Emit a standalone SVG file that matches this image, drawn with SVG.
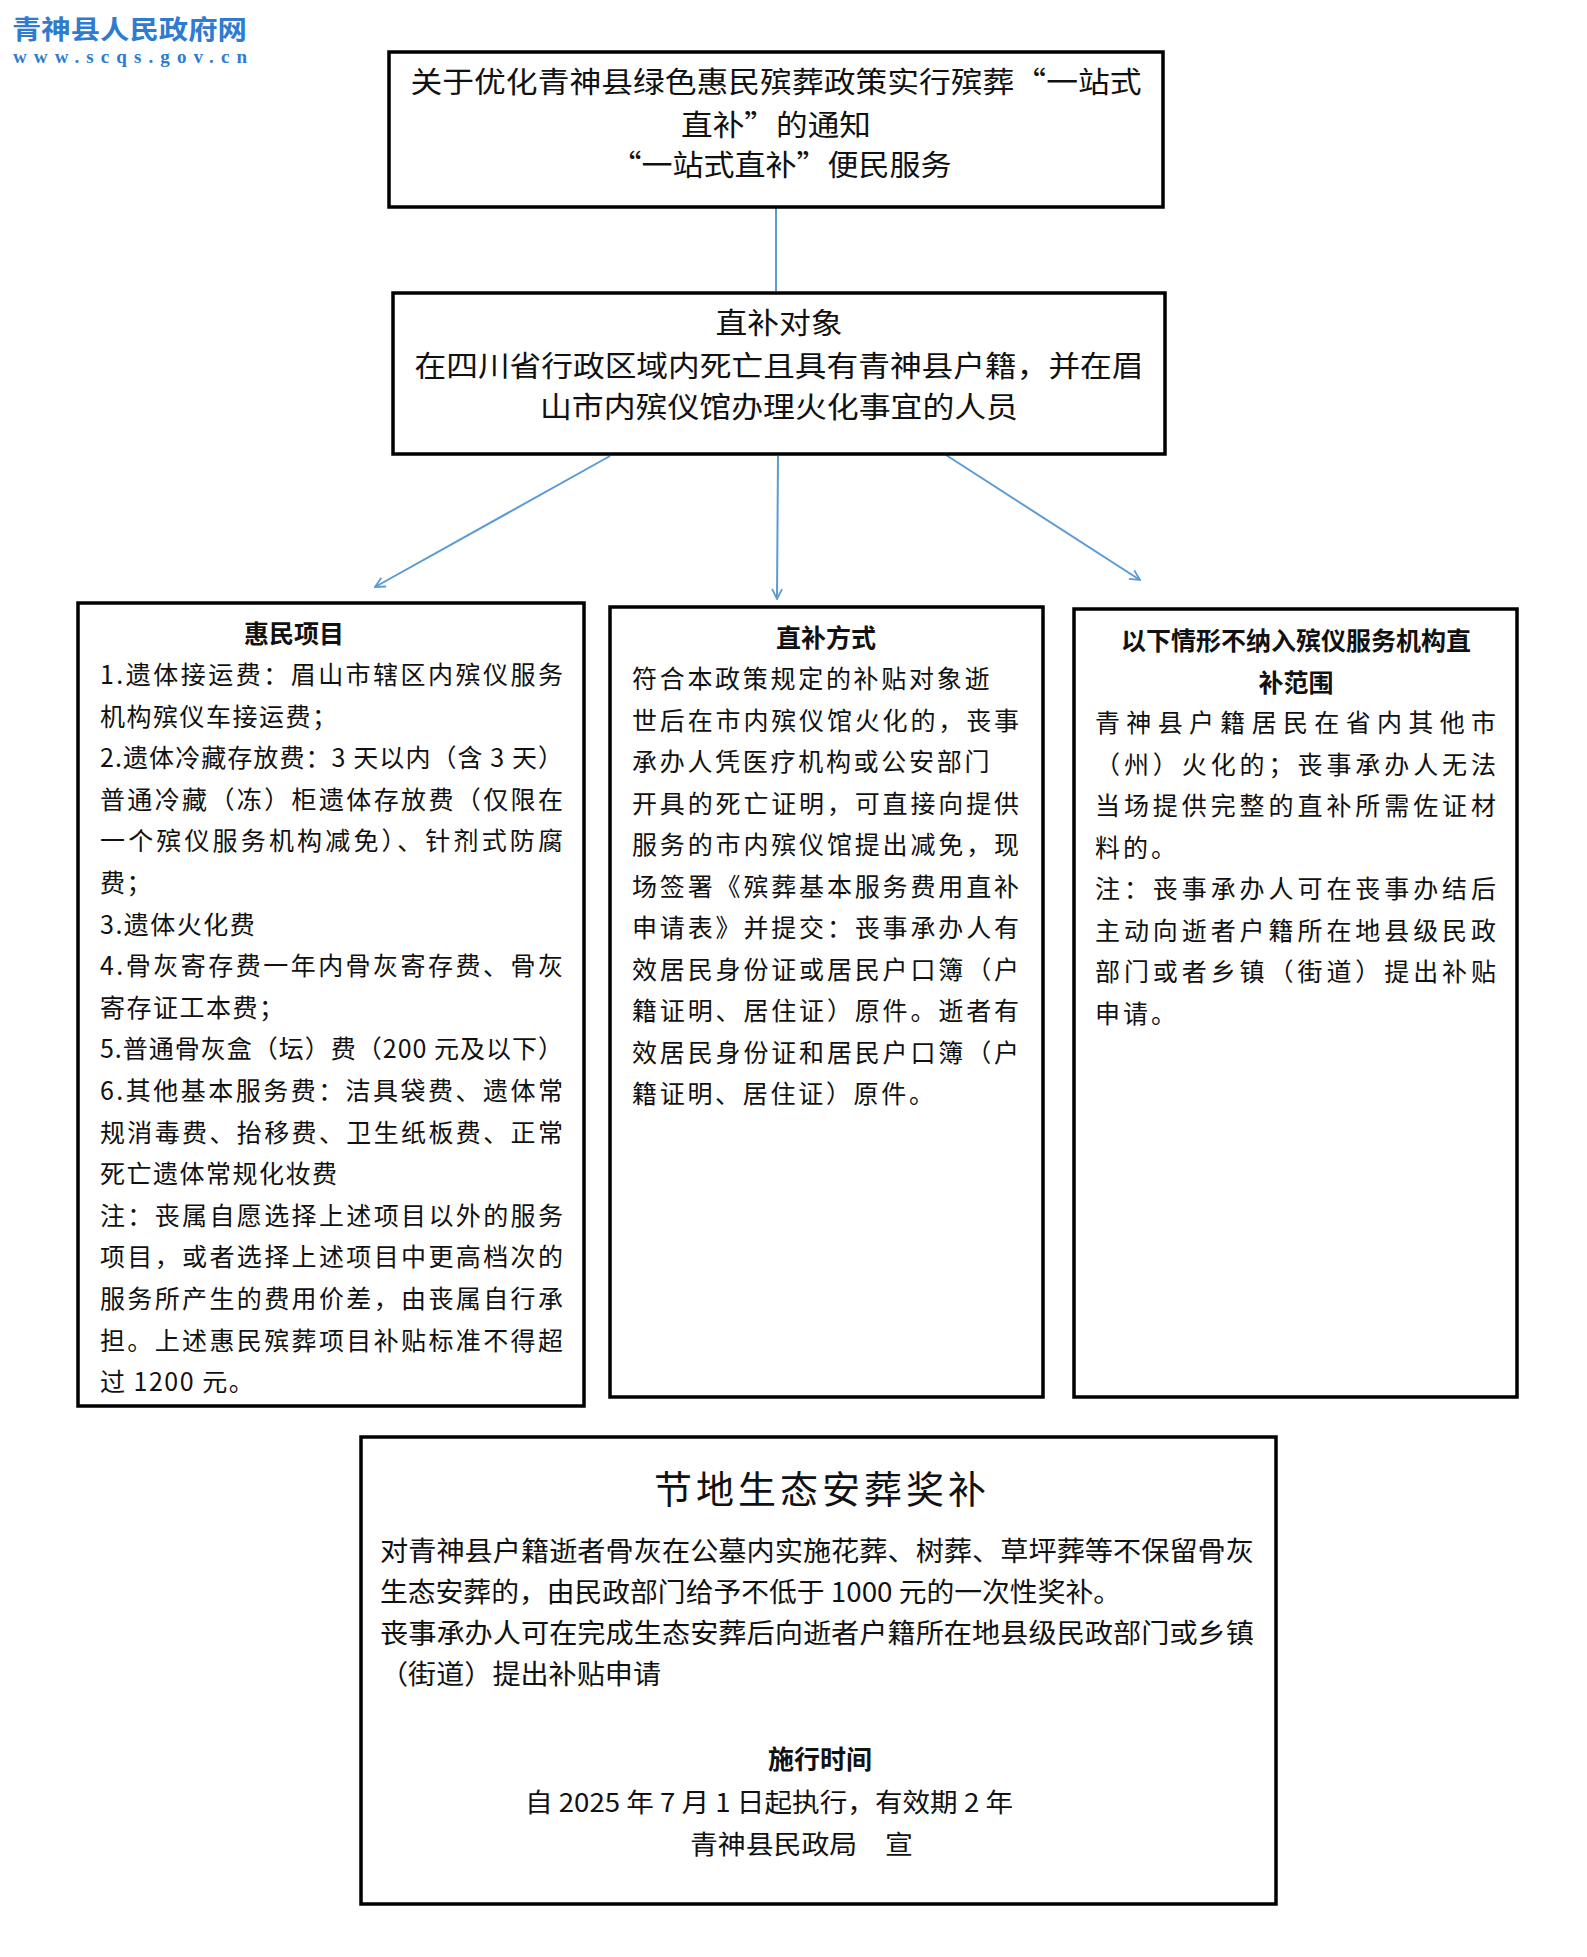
<svg xmlns="http://www.w3.org/2000/svg" width="1587" height="1957" viewBox="0 0 1587 1957">
<style>
.box{fill:#fff;stroke:#000;stroke-width:3.5}
.t{font-family:"Noto Sans CJK SC","Liberation Sans",sans-serif;fill:#111}
.h{font-size:29px}
.b{font-size:25px}
.bt{font-size:25px;font-weight:bold}
.m{font-size:25px}
.bb{font-size:27px}
.c{text-anchor:middle}
.conn{stroke:#5b9bd5;stroke-width:2;fill:none}
.logo{fill:#2e7bcf}
</style>
<defs>
<marker id="arr" viewBox="0 0 12 12" refX="11" refY="6" markerWidth="12" markerHeight="12" markerUnits="userSpaceOnUse" orient="auto">
<path d="M1,1 L11,6 L1,11" fill="none" stroke="#5b9bd5" stroke-width="1.8"/>
</marker>
</defs>
<rect width="1587" height="1957" fill="#fff"/>
<g id="logo">
<text x="12" y="39" font-family="Noto Sans CJK SC,sans-serif" font-weight="bold" font-size="26" class="logo" textLength="235" lengthAdjust="spacingAndGlyphs">青神县人民政府网</text>
<text x="13" y="63" font-family="Liberation Serif,serif" font-weight="bold" font-size="19" class="logo" textLength="234" lengthAdjust="spacing">www.scqs.gov.cn</text>
</g>
<g id="connectors">
<line class="conn" x1="776" y1="208" x2="776" y2="291"/>
<line class="conn" x1="610" y1="456" x2="375" y2="587" marker-end="url(#arr)"/>
<line class="conn" x1="778" y1="456" x2="777" y2="599" marker-end="url(#arr)"/>
<line class="conn" x1="946" y1="455" x2="1140" y2="580" marker-end="url(#arr)"/>
</g>
<g id="node-title">
<rect class="box" x="389" y="52" width="774" height="155"/>
<text class="t h c" x="776" y="93" textLength="731" lengthAdjust="spacingAndGlyphs">关于优化青神县绿色惠民殡葬政策实行殡葬“一站式</text>
<text class="t h c" x="776" y="136" textLength="190" lengthAdjust="spacingAndGlyphs">直补”的通知</text>
<text class="t h c" x="781" y="176" textLength="341" lengthAdjust="spacingAndGlyphs">“一站式直补”便民服务</text>
</g>
<g id="node-target">
<rect class="box" x="393" y="293" width="772" height="161"/>
<text class="t h c" x="779" y="334" textLength="127" lengthAdjust="spacingAndGlyphs">直补对象</text>
<text class="t h c" x="779" y="377" textLength="729" lengthAdjust="spacingAndGlyphs">在四川省行政区域内死亡且具有青神县户籍，并在眉</text>
<text class="t h c" x="779" y="418" textLength="478" lengthAdjust="spacingAndGlyphs">山市内殡仪馆办理火化事宜的人员</text>
</g>
<g id="node-items">
<rect class="box" x="78" y="603" width="506" height="803"/>
<text class="t bt c" x="294" y="643">惠民项目</text>
<g class="t b">
<text x="100" y="684" textLength="463" lengthAdjust="spacing">1.遗体接运费：眉山市辖区内殡仪服务</text>
<text x="100" y="725.6" letter-spacing="1.5">机构殡仪车接运费；</text>
<text x="100" y="767.2" textLength="463" lengthAdjust="spacing">2.遗体冷藏存放费：3 天以内（含 3 天）</text>
<text x="100" y="808.8" textLength="463" lengthAdjust="spacing">普通冷藏（冻）柜遗体存放费（仅限在</text>
<text x="100" y="850.4" textLength="463" lengthAdjust="spacing">一个殡仪服务机构减免）、针剂式防腐</text>
<text x="100" y="892" letter-spacing="1.5">费；</text>
<text x="100" y="933.6" letter-spacing="1.5">3.遗体火化费</text>
<text x="100" y="975.2" textLength="463" lengthAdjust="spacing">4.骨灰寄存费一年内骨灰寄存费、骨灰</text>
<text x="100" y="1016.8" letter-spacing="1.5">寄存证工本费；</text>
<text x="100" y="1058.4" textLength="463" lengthAdjust="spacing">5.普通骨灰盒（坛）费（200 元及以下）</text>
<text x="100" y="1100" textLength="463" lengthAdjust="spacing">6.其他基本服务费：洁具袋费、遗体常</text>
<text x="100" y="1141.6" textLength="463" lengthAdjust="spacing">规消毒费、抬移费、卫生纸板费、正常</text>
<text x="100" y="1183.2" letter-spacing="1.5">死亡遗体常规化妆费</text>
<text x="100" y="1224.8" textLength="463" lengthAdjust="spacing">注：丧属自愿选择上述项目以外的服务</text>
<text x="100" y="1266.4" textLength="463" lengthAdjust="spacing">项目，或者选择上述项目中更高档次的</text>
<text x="100" y="1308" textLength="463" lengthAdjust="spacing">服务所产生的费用价差，由丧属自行承</text>
<text x="100" y="1349.6" textLength="463" lengthAdjust="spacing">担。上述惠民殡葬项目补贴标准不得超</text>
<text x="100" y="1391.2" letter-spacing="1.5">过 1200 元。</text>
</g>
</g>
<g id="node-method">
<rect class="box" x="610" y="607" width="433" height="790"/>
<text class="t bt c" x="826" y="647">直补方式</text>
<g class="t m">
<text x="632" y="688" letter-spacing="2.7">符合本政策规定的补贴对象逝</text>
<text x="632" y="729.5" textLength="387" lengthAdjust="spacing">世后在市内殡仪馆火化的，丧事</text>
<text x="632" y="771" letter-spacing="2.7">承办人凭医疗机构或公安部门</text>
<text x="632" y="812.5" textLength="387" lengthAdjust="spacing">开具的死亡证明，可直接向提供</text>
<text x="632" y="854" textLength="387" lengthAdjust="spacing">服务的市内殡仪馆提出减免，现</text>
<text x="632" y="895.5" textLength="387" lengthAdjust="spacing">场签署《殡葬基本服务费用直补</text>
<text x="632" y="937" textLength="387" lengthAdjust="spacing">申请表》并提交：丧事承办人有</text>
<text x="632" y="978.5" textLength="387" lengthAdjust="spacing">效居民身份证或居民户口簿（户</text>
<text x="632" y="1020" textLength="387" lengthAdjust="spacing">籍证明、居住证）原件。逝者有</text>
<text x="632" y="1061.5" textLength="387" lengthAdjust="spacing">效居民身份证和居民户口簿（户</text>
<text x="632" y="1103" letter-spacing="2.7">籍证明、居住证）原件。</text>
</g>
</g>
<g id="node-exclude">
<rect class="box" x="1074" y="609" width="443" height="788"/>
<text class="t bt c" x="1296" y="650">以下情形不纳入殡仪服务机构直</text>
<text class="t bt c" x="1296" y="692">补范围</text>
<g class="t m">
<text x="1095" y="732" textLength="401" lengthAdjust="spacing">青神县户籍居民在省内其他市</text>
<text x="1095" y="773.5" textLength="401" lengthAdjust="spacing">（州）火化的；丧事承办人无法</text>
<text x="1095" y="815" textLength="401" lengthAdjust="spacing">当场提供完整的直补所需佐证材</text>
<text x="1095" y="856.5" letter-spacing="3">料的。</text>
<text x="1095" y="898" textLength="401" lengthAdjust="spacing">注：丧事承办人可在丧事办结后</text>
<text x="1095" y="939.5" textLength="401" lengthAdjust="spacing">主动向逝者户籍所在地县级民政</text>
<text x="1095" y="981" textLength="401" lengthAdjust="spacing">部门或者乡镇（街道）提出补贴</text>
<text x="1095" y="1022.5" letter-spacing="3">申请。</text>
</g>
</g>
<g id="node-eco">
<rect class="box" x="361" y="1437" width="915" height="467"/>
<text class="t c" x="822" y="1503" font-size="38" letter-spacing="4">节地生态安葬奖补</text>
<g class="t bb">
<text x="380" y="1561" textLength="874" lengthAdjust="spacingAndGlyphs">对青神县户籍逝者骨灰在公墓内实施花葬、树葬、草坪葬等不保留骨灰</text>
<text x="380" y="1602" textLength="741" lengthAdjust="spacingAndGlyphs">生态安葬的，由民政部门给予不低于 1000 元的一次性奖补。</text>
<text x="380" y="1643" textLength="874" lengthAdjust="spacingAndGlyphs">丧事承办人可在完成生态安葬后向逝者户籍所在地县级民政部门或乡镇</text>
<text x="380" y="1684" textLength="281" lengthAdjust="spacingAndGlyphs">（街道）提出补贴申请</text>
</g>
<text class="t c" x="820" y="1769" font-size="26" font-weight="bold">施行时间</text>
<text class="t" x="525" y="1812" font-size="26" textLength="488" lengthAdjust="spacingAndGlyphs">自 2025 年 7 月 1 日起执行，有效期 2 年</text>
<text class="t" x="690" y="1854" font-size="26" textLength="223" lengthAdjust="spacingAndGlyphs">青神县民政局　宣</text>
</g>
</svg>
